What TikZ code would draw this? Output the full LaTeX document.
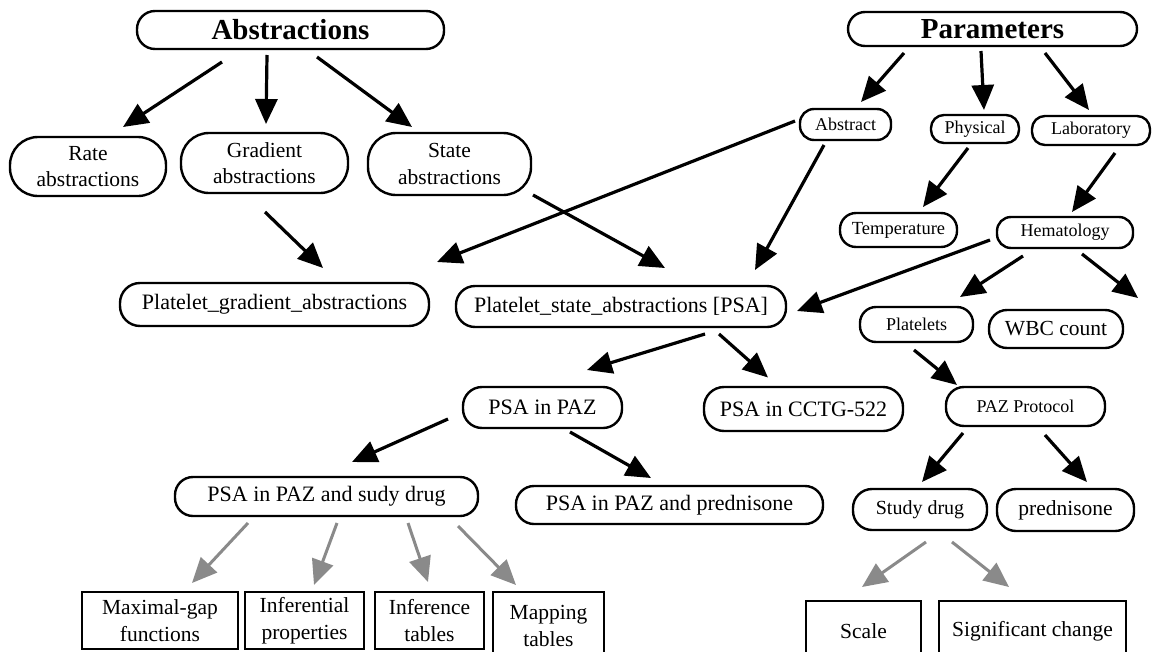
\documentclass[tikz,border=0pt]{standalone}
\usepackage{fontspec}
\setmainfont{Liberation Serif}
\usetikzlibrary{arrows.meta,calc}
\definecolor{arrgray}{HTML}{8A8A8A}
\begin{document}
\begin{tikzpicture}[x=1pt,y=-1pt,
  pill/.style={draw, line width=2.4pt, rounded corners=#1, inner sep=0pt, align=center},
  pill/.default=16pt,
  box/.style={draw, line width=2.6pt, inner sep=0pt, align=center},
  big/.style={font=\fontsize{29}{32}\selectfont\bfseries},
  med/.style={font=\fontsize{22}{26}\selectfont},
  mid/.style={font=\fontsize{21.5}{26.5}\selectfont},
  sml/.style={font=\fontsize{18}{22}\selectfont},
  arr/.style={line width=3.2pt, -{Triangle[length=25pt,width=22pt]}},
  garr/.style={arr, line width=3pt, color=arrgray}]
\useasboundingbox (0,0) rectangle (1154,651);

% top-level categories
\node[pill=18pt, big, minimum width=307pt, minimum height=38pt] (abs) at (290.5,30) {Abstractions};
\node[pill=17pt, big, minimum width=289pt, minimum height=34pt] (par) at (992.5,29) {Parameters};

% abstraction types
\node[pill=28pt, mid, minimum width=156pt, minimum height=59pt] (rate) at (88,166.5) {Rate\\abstractions};
\node[pill=28pt, mid, minimum width=167pt, minimum height=60pt] (grad) at (264.5,163) {Gradient\\abstractions};
\node[pill=28pt, mid, minimum width=163pt, minimum height=62pt] (state) at (449.5,164) {State\\abstractions};

% parameter types
\node[pill=14pt, sml, minimum width=91pt, minimum height=31pt] (abst) at (845.5,124.5) {Abstract};
\node[pill=13pt, sml, minimum width=88pt, minimum height=28pt] (phys) at (975,129) {Physical};
\node[pill=13pt, sml, minimum width=118pt, minimum height=29pt] (lab) at (1091,130.5) {Laboratory};
\node[pill=16pt, font=\fontsize{18.5}{22}\selectfont, minimum width=117pt, minimum height=34pt] (temp) at (898.5,230) {Temperature};
\node[pill=14pt, sml, minimum width=136pt, minimum height=31pt] (hema) at (1065,232.5) {Hematology};

% platelet abstractions
\node[pill=20pt, med, minimum width=309pt, minimum height=43pt] (pga) at (274.5,304.5) {Platelet\_gradient\_abstractions};
\node[pill=19pt, med, minimum width=330pt, minimum height=41pt] (psa) at (621,306.5) {Platelet\_state\_abstractions [PSA]};

\node[pill=16pt, sml, minimum width=113pt, minimum height=35pt] (plt) at (916.5,324.5) {Platelets};
\node[pill=18pt, mid, minimum width=134pt, minimum height=38pt] (wbc) at (1056,329) {WBC count};
\node[pill=18pt, sml, minimum width=159pt, minimum height=39pt] (paz) at (1025.5,406.5) {PAZ Protocol};
\node[pill=19pt, font=\fontsize{20}{24}\selectfont, minimum width=134pt, minimum height=41pt] (sd) at (920,509.5) {Study drug};
\node[pill=19pt, mid, minimum width=137pt, minimum height=42pt] (pred) at (1065.5,510) {prednisone};
\node[box, mid, minimum width=115pt, minimum height=60pt] (scale) at (863.5,631) {Scale};
\node[box, mid, minimum width=187pt, minimum height=60pt] (sig) at (1032.5,631) {Significant change};

% PSA protocols
\node[pill=19pt, med, minimum width=159pt, minimum height=41pt] (pazp) at (542.5,407.5) {PSA in PAZ};
\node[pill=20pt, med, minimum width=199pt, minimum height=44pt] (cctg) at (803.5,409) {PSA in CCTG-522};
\node[pill=18pt, med, minimum width=303pt, minimum height=39pt] (sudy) at (326.5,496.5) {PSA in PAZ and sudy drug};
\node[pill=18pt, med, minimum width=307pt, minimum height=38pt] (ppred) at (669.5,505) {PSA in PAZ and prednisone};

% knowledge components
\node[box, mid, minimum width=156pt, minimum height=57pt] (maxg) at (160,620.5) {Maximal-gap\\functions};
\node[box, mid, minimum width=119pt, minimum height=57pt] (infp) at (304.5,620.5) {Inferential\\properties};
\node[box, mid, minimum width=109pt, minimum height=57pt] (inft) at (429.5,620.5) {Inference\\tables};
\node[box, mid, minimum width=111pt, minimum height=68pt] (mapt) at (548.5,626) {Mapping\\tables};

% black connectors
\draw[arr] ($(abs)+(-68.5,32)$) -- ($(rate)+(35,-39.5)$);
\draw[arr] ($(abs)+(-23.5,25)$) -- ($(grad)+(1.5,-39)$);
\draw[arr] ($(abs)+(26.5,27)$) -- ($(state)+(-37.5,-37)$);
\draw[arr] ($(par)+(-88.5,24)$) -- ($(abst)+(15.5,-22.5)$);
\draw[arr] ($(par)+(-11.5,22)$) -- ($(phys)+(9,-19)$);
\draw[arr] ($(par)+(52.5,24)$) -- ($(lab)+(-2,-20.5)$);
\draw[arr] ($(phys)+(-7,19)$) -- ($(temp)+(24.5,-23)$);
\draw[arr] ($(lab)+(24,22.5)$) -- ($(hema)+(7,-20.5)$);
\draw[arr] ($(abst)+(-50.5,-3.5)$) -- ($(pga)+(162.5,-42.5)$);
\draw[arr] ($(abst)+(-21.5,20.5)$) -- ($(psa)+(134,-36.5)$);
\draw[arr] ($(grad)+(0.5,49)$) -- ($(pga)+(48.5,-36.5)$);
\draw[arr] ($(state)+(83.5,31)$) -- ($(psa)+(44,-38.5)$);
\draw[arr] ($(hema)+(-75,7.5)$) -- ($(psa)+(176,4.5)$);
\draw[arr] ($(hema)+(-42,23.5)$) -- ($(plt)+(43.5,-27.5)$);
\draw[arr] ($(hema)+(17,21.5)$) -- ($(wbc)+(82,-31)$);
\draw[arr] ($(psa)+(84,27.5)$) -- ($(pazp)+(44.5,-37.5)$);
\draw[arr] ($(psa)+(98,27.5)$) -- ($(cctg)+(-35.5,-31.5)$);
\draw[arr] ($(plt)+(-2.5,25.5)$) -- ($(paz)+(-68.5,-21.5)$);
\draw[arr] ($(pazp)+(-94.5,11.5)$) -- ($(sudy)+(25.5,-34.5)$);
\draw[arr] ($(pazp)+(27.5,24.5)$) -- ($(ppred)+(-18.5,-27)$);
\draw[arr] ($(paz)+(-62.5,26.5)$) -- ($(sd)+(2,-27.5)$);
\draw[arr] ($(paz)+(19.5,28.5)$) -- ($(pred)+(21.5,-28)$);

% grey connectors
\draw[garr] ($(sudy)+(-78.5,26.5)$) -- ($(maxg)+(32,-37.5)$);
\draw[garr] ($(sudy)+(10.5,26.5)$) -- ($(infp)+(9.5,-35.5)$);
\draw[garr] ($(sudy)+(81.5,26.5)$) -- ($(inft)+(-1.5,-38.5)$);
\draw[garr] ($(sudy)+(131.5,29.5)$) -- ($(mapt)+(-32.5,-41)$);
\draw[garr] ($(sd)+(6,32.5)$) -- ($(scale)+(-1.5,-44)$);
\draw[garr] ($(sd)+(32,32.5)$) -- ($(sig)+(-23.5,-44)$);
\end{tikzpicture}
\end{document}
